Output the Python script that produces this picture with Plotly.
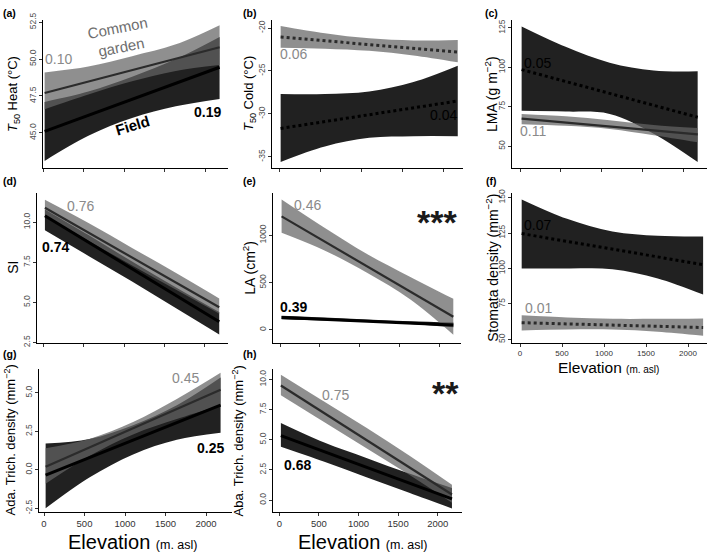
import plotly.graph_objects as go

W, H = 709, 553

# ---------------- data ----------------
band_x = [20, 560, 1100, 1640, 2180]   # elevation (m asl) where band limits were read
line_x = [20, 2180]                    # regression line end points

# (a) T50 Heat
a_garden_line = [47.7, 50.8]
a_garden_upper = [49.1, 49.5, 50.2, 51.0, 52.3]
a_garden_lower = [46.6, 47.6, 48.5, 49.2, 49.6]
a_field_line = [45.1, 49.45]
a_field_upper = [47.1, 47.8, 48.8, 50.0, 51.5]
a_field_lower = [43.1, 44.8, 46.0, 46.8, 47.3]

# (b) T50 Cold
b_garden_line = [-21.05, -22.8]
b_garden_upper = [-19.75, -20.6, -21.2, -21.45, -21.4]
b_garden_lower = [-22.3, -22.4, -22.65, -23.2, -24.0]
b_field_line = [-31.7, -28.5]
b_field_upper = [-27.7, -27.7, -27.4, -26.3, -24.4]
b_field_lower = [-35.6, -33.8, -32.8, -32.6, -32.6]

# (c) LMA
c_garden_line = [67.5, 57.5]
c_garden_upper = [70.5, 69.0, 66.5, 63.5, 61.5]
c_garden_lower = [64.0, 63.0, 61.0, 57.0, 52.5]
c_field_line = [98.6, 68.4]
c_field_upper = [125.9, 113.0, 103.0, 98.0, 97.5]
c_field_lower = [72.5, 72.0, 70.5, 58.0, 40.0]

# (d) SI
d_garden_line = [10.9, 4.7]
d_garden_upper = [11.4, 9.95, 8.4, 6.85, 5.25]
d_garden_lower = [10.4, 8.85, 7.3, 5.8, 4.3]
d_field_line = [10.4, 3.8]
d_field_upper = [10.8, 9.2, 7.55, 5.95, 4.4]
d_field_lower = [9.5, 7.9, 6.3, 4.65, 3.0]

# (e) LA
e_garden_line = [1200, 138]
e_garden_upper = [1379, 1080, 800, 560, 328]
e_garden_lower = [1027, 840, 600, 320, -52]
e_field_line = [131, 52]
e_field_upper = [150, 130, 110, 92, 77]
e_field_lower = [112, 98, 82, 63, 27]

# (f) Stomata density
f_garden_line = [61.8, 58.4]
f_garden_upper = [67.0, 65.5, 64.5, 64.5, 64.8]
f_garden_lower = [56.3, 57.0, 57.0, 55.5, 52.6]
f_field_line = [124.6, 102.7]
f_field_upper = [148.7, 135.0, 126.0, 123.0, 122.5]
f_field_lower = [100.0, 100.0, 99.5, 93.0, 81.6]

# (g) Ada. trichome density
g_garden_line = [0.2, 5.2]
g_garden_upper = [1.4, 2.0, 3.1, 4.6, 6.3]
g_garden_lower = [-0.9, 0.9, 2.3, 3.3, 4.2]
g_field_line = [-0.35, 4.2]
g_field_upper = [1.7, 2.0, 2.9, 4.2, 6.0]
g_field_lower = [-2.5, -0.5, 1.0, 1.95, 2.4]

# (h) Aba. trichome density
h_garden_line = [9.5, 0.46]
h_garden_upper = [10.4, 8.2, 6.0, 3.7, 1.27]
h_garden_lower = [8.7, 6.5, 4.3, 2.1, -0.22]
h_field_line = [5.35, 0.1]
h_field_upper = [6.4, 4.8, 3.5, 2.2, 1.0]
h_field_lower = [4.43, 3.2, 1.9, 0.6, -0.7]

x_tick_vals = [0, 500, 1000, 1500, 2000]
x_tick_text = ["0", "500", "1000", "1500", "2000"]

y_titles = {
    "a": "<i>T</i><sub>50</sub> Heat (°C)",
    "b": "<i>T</i><sub>50</sub> Cold (°C)",
    "c": "LMA (g m<sup>−2</sup>)",
    "d": "SI",
    "e": "LA (cm<sup>2</sup>)",
    "f": "Stomata density (mm<sup>−2</sup>)",
    "g": "Ada. Trich. density (mm<sup>−2</sup>)",
    "h": "Aba. Trich. density (mm<sup>−2</sup>)",
}
y_ticks = {
    "a": ([45, 47.5, 50, 52.5], ["45.0", "47.5", "50.0", "52.5"]),
    "b": ([-35, -30, -25, -20], ["-35", "-30", "-25", "-20"]),
    "c": ([50, 75, 100, 125], ["50", "75", "100", "125"]),
    "d": ([2.5, 5, 7.5, 10], ["2.5", "5.0", "7.5", "10.0"]),
    "e": ([0, 500, 1000], ["0", "500", "1000"]),
    "f": ([50, 75, 100, 125, 150], ["50", "75", "100", "125", "150"]),
    "g": ([-2.5, 0, 2.5, 5], ["-2.5", "0.0", "2.5", "5.0"]),
    "h": ([0, 2.5, 5, 7.5, 10], ["0.0", "2.5", "5.0", "7.5", "10.0"]),
}
r2_labels = {
    "a": ("0.10", "0.19"), "b": ("0.06", "0.04"), "c": ("0.11", "0.05"),
    "d": ("0.76", "0.74"), "e": ("0.46", "0.39"), "f": ("0.01", "0.07"),
    "g": ("0.45", "0.25"), "h": ("0.75", "0.68"),
}
signif = {"e": "***", "h": "**"}

series = {
    "a": (a_garden_line, a_garden_upper, a_garden_lower, a_field_line, a_field_upper, a_field_lower),
    "b": (b_garden_line, b_garden_upper, b_garden_lower, b_field_line, b_field_upper, b_field_lower),
    "c": (c_garden_line, c_garden_upper, c_garden_lower, c_field_line, c_field_upper, c_field_lower),
    "d": (d_garden_line, d_garden_upper, d_garden_lower, d_field_line, d_field_upper, d_field_lower),
    "e": (e_garden_line, e_garden_upper, e_garden_lower, e_field_line, e_field_upper, e_field_lower),
    "f": (f_garden_line, f_garden_upper, f_garden_lower, f_field_line, f_field_upper, f_field_lower),
    "g": (g_garden_line, g_garden_upper, g_garden_lower, g_field_line, g_field_upper, g_field_lower),
    "h": (h_garden_line, h_garden_upper, h_garden_lower, h_field_line, h_field_upper, h_field_lower),
}
# line style: garden dotted?, field dotted?
dotted = {"a": (False, False), "b": (True, True), "c": (False, True), "d": (False, False),
          "e": (False, False), "f": (True, True), "g": (False, False), "h": (False, False)}

# ---------------- layout geometry (pixels) ----------------
geom = {
    "a": dict(L=43, R=228, T=13, B=165, t0=43, s=0.081, yr=(42.59, 52.67)),
    "b": dict(L=272, R=463, T=13, B=165, t0=279, s=0.082, yr=(-36.36, -19.03)),
    "c": dict(L=512, R=707, T=13, B=165, t0=520, s=0.0815, yr=(35.96, 130.2)),
    "d": dict(L=37, R=228, T=190, B=343, t0=43.3, s=0.0807, yr=(2.5, 11.83)),
    "e": dict(L=273, R=461, T=190, B=343, t0=280, s=0.0795, yr=(-134, 1448)),
    "f": dict(L=512, R=707, T=190, B=343, t0=520, s=0.084, yr=(47.8, 153.3)),
    "g": dict(L=39, R=232, T=370, B=516, t0=44, s=0.081, yr=(-2.73, 6.55)),
    "h": dict(L=273, R=462, T=370, B=516, t0=279.3, s=0.0792, yr=(-0.97, 10.87)),
}
show_xlabels = {"f": 8, "g": 9.5, "h": 9.5}
ytitle_pos = {"a": (13, 13), "b": (249, 13), "c": (491, 14), "d": (13, 14), "e": (249, 14),
              "f": (492, 14), "g": (10, 13), "h": (238, 13)}
panel_label_pos = {"a": (9, 6), "b": (249, 6), "c": (491, 6), "d": (9, 178), "e": (249, 178),
                   "f": (491, 178), "g": (9, 355), "h": (249, 355)}

GARDEN_FILL = "rgba(100,100,100,0.72)"
FIELD_FILL = "rgba(0,0,0,0.87)"
GARDEN_LINE = "#2b2b2b"
FIELD_LINE = "#000000"
GARDEN_TXT = "#8a8a8a"

FONT = "Liberation Sans, Arial, sans-serif"

fig = go.Figure()
layout = dict(width=W, height=H, margin=dict(l=0, r=0, t=0, b=0),
              paper_bgcolor="white", plot_bgcolor="white", showlegend=False,
              font=dict(family=FONT, color="black"))
annotations = []


def px2paper(x, y):
    return x / W, 1 - y / H


def note(x, y, text, size, color="black", angle=0):
    px_, py_ = px2paper(x, y)
    annotations.append(dict(x=px_, y=py_, xref="paper", yref="paper", text=text,
                            showarrow=False, textangle=angle, xanchor="center",
                            yanchor="middle", font=dict(size=size, color=color)))


for i, key in enumerate("abcdefgh"):
    g = geom[key]
    n = "" if i == 0 else str(i + 1)
    xa, ya = "x" + n, "y" + n
    xr = [(g["L"] - g["t0"]) / g["s"], (g["R"] - g["t0"]) / g["s"]]
    common = dict(showline=True, linecolor="black", linewidth=1, ticks="outside",
                  ticklen=3, tickcolor="#333333", tickwidth=1, showgrid=False,
                  zeroline=False, fixedrange=True)
    layout["xaxis" + n] = dict(common, domain=[g["L"] / W, g["R"] / W], range=xr,
                               anchor=ya, tickvals=x_tick_vals, ticktext=x_tick_text,
                               showticklabels=key in show_xlabels,
                               tickfont=dict(size=show_xlabels.get(key, 8), color="#333333"))
    tv, tt = y_ticks[key]
    layout["yaxis" + n] = dict(common, domain=[1 - g["B"] / H, 1 - g["T"] / H],
                               range=list(g["yr"]), anchor=xa, tickvals=tv, ticktext=tt,
                               tickangle=-90, tickfont=dict(size=8.5, color="#4d4d4d"))

    gl, gu, glo, fl, fu, flo = series[key]
    gdot, fdot = dotted[key]
    fig.add_trace(go.Scatter(x=band_x, y=flo, mode="lines", line=dict(width=0, shape="spline"),
                             xaxis=xa, yaxis=ya, hoverinfo="skip"))
    fig.add_trace(go.Scatter(x=band_x, y=fu, mode="lines", line=dict(width=0, shape="spline"),
                             fill="tonexty", fillcolor=FIELD_FILL, xaxis=xa, yaxis=ya,
                             hoverinfo="skip"))
    fig.add_trace(go.Scatter(x=band_x, y=glo, mode="lines", line=dict(width=0, shape="spline"),
                             xaxis=xa, yaxis=ya, hoverinfo="skip"))
    fig.add_trace(go.Scatter(x=band_x, y=gu, mode="lines", line=dict(width=0, shape="spline"),
                             fill="tonexty", fillcolor=GARDEN_FILL, xaxis=xa, yaxis=ya,
                             hoverinfo="skip"))
    fig.add_trace(go.Scatter(x=line_x, y=gl, mode="lines", xaxis=xa, yaxis=ya,
                             line=dict(color=GARDEN_LINE, width=3 if gdot else 2.2,
                                       dash="dot" if gdot else "solid")))
    fig.add_trace(go.Scatter(x=line_x, y=fl, mode="lines", xaxis=xa, yaxis=ya,
                             line=dict(color=FIELD_LINE, width=3,
                                       dash="dot" if fdot else "solid")))

    tx, fs = ytitle_pos[key]
    note(tx, (g["T"] + g["B"]) / 2, y_titles[key], fs, angle=-90)
    lx, ly = panel_label_pos[key]
    note(lx, ly, "<b>(%s)</b>" % key, 10.5)

r2_pos = {
    "a": ((58, 53, False), (207, 107, True)),
    "b": ((293, 48, False), (443, 110, False)),
    "c": ((533, 127, False), (537, 57, False)),
    "d": ((80, 203, False), (55, 245, True)),
    "e": ((307, 202, False), (293, 307, True)),
    "f": ((538, 308, False), (537, 223, False)),
    "g": ((185, 379, False), (210, 451, True)),
    "h": ((335, 397, False), (297, 468, True)),
}
for key in "abcdefgh":
    (gx, gy, _), (fx, fy, fb) = r2_pos[key]
    gt, ft = r2_labels[key]
    note(gx, gy, gt, 14, GARDEN_TXT)
    note(fx, fy, "<b>%s</b>" % ft if fb else ft, 14, "black")

for key, (sx, sy) in {"e": (437, 220), "h": (445, 395)}.items():
    note(sx, sy, "<b>%s</b>" % signif[key], 34, "#1a1a1a")

note(120, 31, "Common<br>garden", 15, "#6e6e6e", -11)
note(132, 121, "<b>Field</b>", 15, "black", -17)

for cx, cy, big, small in [(608, 369, 15.5, 10), (133, 547, 20, 12.5), (363, 547, 20, 12.5)]:
    note(cx, cy, "Elevation <span style='font-size:%spx'>(m. asl)</span>" % small, big)

layout["annotations"] = annotations
fig.update_layout(**layout)
fig.write_html("out.html")
